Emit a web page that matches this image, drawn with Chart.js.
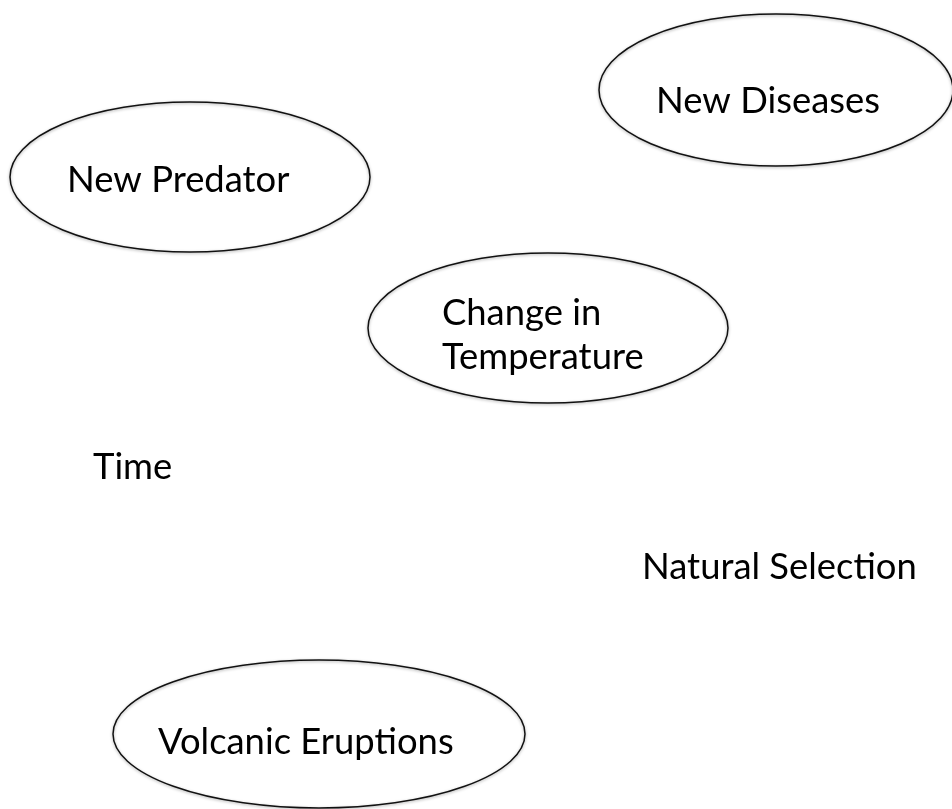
<!DOCTYPE html>
<html>
<head>
<meta charset="utf-8">
<script src="https://cdn.jsdelivr.net/npm/chart.js@4/dist/chart.umd.min.js"></script>
<style>
html,body{margin:0;padding:0;background:#fff;}
#c{display:block;}
</style>
</head>
<body>
<canvas id="c" width="952" height="809"></canvas>
<script>
// Ellipses (centre and radii in page-coordinate units)
const ellipseNames = ['New Diseases', 'New Predator', 'Change in Temperature', 'Volcanic Eruptions'];
const ellipseX  = [776, 190, 548, 319];
const ellipseY  = [90, 177, 328, 734];
const ellipseRX = [177, 180, 180, 206];
const ellipseRY = [76, 75, 75, 74];

// Text labels (left edge, baseline)
const labelText = ['New Diseases', 'New Predator', 'Change in', 'Temperature', 'Time', 'Natural Selection', 'Volcanic Eruptions'];
const labelX = [656, 67, 442, 442, 93, 642, 158];
const labelY = [113, 192, 325, 369, 479, 579, 754];

const FONT_FAMILY = 'Lato, "Open Sans", "DejaVu Sans", sans-serif';

// pick a font size so that "Natural Selection" spans ~273px as in the reference
function fitFontSize() {
  const ctx = document.createElement('canvas').getContext('2d');
  ctx.font = '100px ' + FONT_FAMILY;
  const w = ctx.measureText('Natural Selection').width;
  return Math.round(100 * 275 / w * 10) / 10;
}
const fontSize = fitFontSize();

const ellipsePlugin = {
  id: 'ellipses',
  afterDatasetsDraw(chart) {
    const ctx = chart.ctx;
    const xs = chart.scales.x, ys = chart.scales.y;
    const meta = chart.getDatasetMeta(0);
    meta.data.forEach((pt, i) => {
      const rx = Math.abs(xs.getPixelForValue(ellipseX[i] + ellipseRX[i]) - pt.x);
      const ry = Math.abs(ys.getPixelForValue(ellipseY[i] + ellipseRY[i]) - pt.y);
      ctx.save();
      ctx.shadowColor = 'rgba(0,0,0,0.35)';
      ctx.shadowBlur = 3;
      ctx.shadowOffsetX = 0;
      ctx.shadowOffsetY = 1;
      ctx.beginPath();
      ctx.ellipse(pt.x, pt.y, rx, ry, 0, 0, Math.PI * 2);
      ctx.lineWidth = 1.5;
      ctx.strokeStyle = '#111';
      ctx.stroke();
      ctx.restore();
    });
    const lmeta = chart.getDatasetMeta(1);
    ctx.save();
    ctx.fillStyle = '#000';
    ctx.font = fontSize + 'px ' + FONT_FAMILY;
    ctx.textAlign = 'left';
    ctx.textBaseline = 'alphabetic';
    lmeta.data.forEach((pt, i) => {
      ctx.fillText(labelText[i], pt.x, pt.y);
    });
    ctx.restore();
  }
};

new Chart(document.getElementById('c'), {
  type: 'scatter',
  data: {
    datasets: [
      {
        label: 'Ellipses',
        data: ellipseX.map((x, i) => ({ x: x, y: ellipseY[i] })),
        pointRadius: 0,
        pointHoverRadius: 0
      },
      {
        label: 'Labels',
        data: labelX.map((x, i) => ({ x: x, y: labelY[i] })),
        pointRadius: 0,
        pointHoverRadius: 0
      }
    ]
  },
  options: {
    responsive: false,
    devicePixelRatio: 1,
    animation: false,
    layout: { padding: 0 },
    plugins: {
      legend: { display: false },
      tooltip: { enabled: false },
      title: { display: false }
    },
    scales: {
      x: { type: 'linear', min: 0, max: 952, display: false },
      y: { type: 'linear', min: 0, max: 809, reverse: true, display: false }
    }
  },
  plugins: [ellipsePlugin]
});
</script>
</body>
</html>
